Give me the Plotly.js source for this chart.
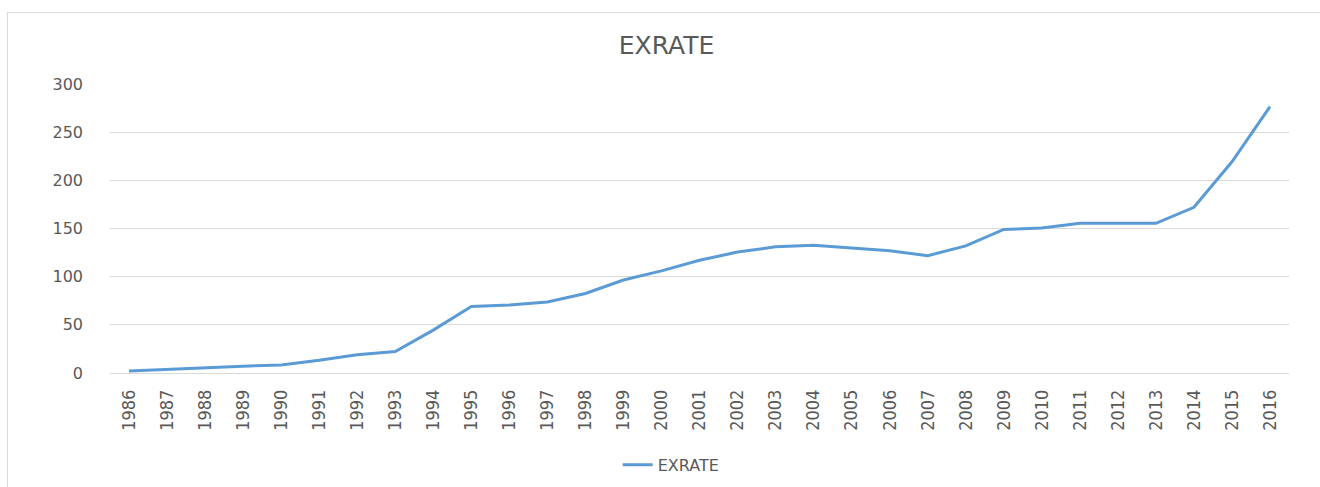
<!DOCTYPE html>
<html>
<head>
<meta charset="utf-8">
<script src="https://cdn.plot.ly/plotly-3.0.1.min.js"></script>
<style>
html,body{margin:0;padding:0;background:#fff;overflow:hidden;width:1320px;height:487px;}
#frame{position:absolute;left:7px;top:12px;width:1313px;height:475px;border-left:1px solid #d9d9d9;border-top:1px solid #d9d9d9;box-sizing:border-box;pointer-events:none;}
#chart{position:absolute;left:0;top:0;width:1320px;height:487px;}
</style>
</head>
<body>
<div id="chart"></div>
<div id="frame"></div>
<script>
const years = ["1986","1987","1988","1989","1990","1991","1992","1993","1994","1995","1996","1997","1998","1999","2000","2001","2002","2003","2004","2005","2006","2007","2008","2009","2010","2011","2012","2013","2014","2015","2016"];
const exrate = [2, 3.8, 5.4, 7, 8.4, 13.2, 19, 22.3, 44.5, 69, 70.5, 73.7, 82.5, 96.5, 106, 117, 125.5, 131, 132.5, 129.5, 127, 121.8, 132, 149, 150.5, 155.4, 155.4, 155.4, 172, 219.3, 276.5];
const yTicks = [0, 50, 100, 150, 200, 250, 300];

Plotly.newPlot('chart', [{
  type: 'scatter',
  mode: 'lines',
  x: years,
  y: exrate,
  name: 'EXRATE',
  line: {color: '#5B9BD5', width: 3}
}], {
  width: 1320,
  height: 487,
  autosize: false,
  margin: {l: 110, r: 31, t: 84, b: 114, autoexpand: false},
  paper_bgcolor: '#ffffff',
  plot_bgcolor: '#ffffff',
  title: {
    text: 'EXRATE',
    font: {family: 'DejaVu Sans', size: 25, color: '#595959'},
    x: 0.505, xref: 'container', xanchor: 'center',
    y: 0.908, yref: 'container', yanchor: 'middle'
  },
  xaxis: {
    type: 'category',
    tickangle: -90,
    tickmode: 'array',
    tickvals: years,
    ticktext: years,
    tickfont: {family: 'Liberation Sans Narrow, DejaVu Sans Condensed', size: 18, color: '#595959'},
    showgrid: false,
    showline: false,
    zeroline: false,
    ticks: '',
    ticklabelstandoff: 12,
    automargin: false,
    range: [-0.5, 30.5]
  },
  yaxis: {
    range: [0, 300],
    tickmode: 'array',
    tickvals: yTicks,
    ticktext: yTicks.map(String),
    tickfont: {family: 'DejaVu Sans', size: 16, color: '#595959'},
    gridcolor: '#d9d9d9',
    gridwidth: 1,
    zeroline: true,
    zerolinecolor: '#d9d9d9',
    zerolinewidth: 1,
    showline: false,
    ticks: '',
    ticklabelstandoff: 26,
    automargin: false
  },
  showlegend: true,
  legend: {
    orientation: 'h',
    x: 0.476, xanchor: 'center',
    y: -0.318, yanchor: 'middle',
    font: {family: 'DejaVu Sans', size: 16, color: '#595959'}
  }
}, {displayModeBar: false, staticPlot: true});
</script>
</body>
</html>
